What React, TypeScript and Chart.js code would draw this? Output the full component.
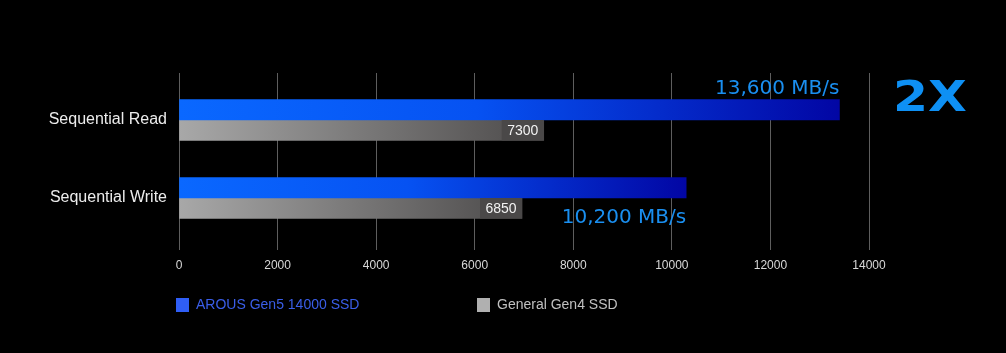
import React, { useEffect, useRef } from "react";
import { Chart, registerables } from "chart.js";

Chart.register(...registerables);

const categories = ["Sequential Read", "Sequential Write"];
const seriesNames = ["AROUS Gen5 14000 SSD", "General Gen4 SSD"];
const arousValues = [13400, 10290];
const generalValues = [7400, 6960];
const arousLabels = ["13,600 MB/s", "10,200 MB/s"];
const generalLabels = ["7300", "6850"];
const badgeText = "2X";
const xTickValues = [0, 2000, 4000, 6000, 8000, 10000, 12000, 14000];

const BLUE_LEGEND = "#2f5ef6";
const GRAY_LEGEND = "#b0b0b0";

function makeGradient(ctx: any, stops: [number, string][], fallback: string) {
  const chart = ctx.chart;
  const xs = chart.scales && chart.scales.x;
  if (!xs || ctx.type !== "data" || !ctx.raw) return fallback;
  const x0 = xs.getPixelForValue(0);
  const x1 = xs.getPixelForValue(ctx.raw.x);
  if (!isFinite(x0) || !isFinite(x1) || x1 <= x0) return fallback;
  const g = chart.ctx.createLinearGradient(x0, 0, x1, 0);
  stops.forEach(([o, c]) => g.addColorStop(o, c));
  return g;
}

function blueGradient(ctx: any) {
  return makeGradient(
    ctx,
    [
      [0, "#0a68ff"],
      [0.45, "#0652f2"],
      [1, "#0206a4"],
    ],
    "#0a5cff"
  );
}

function grayGradient(ctx: any) {
  return makeGradient(
    ctx,
    [
      [0, "#a8a8a8"],
      [1, "#4c4a4a"],
    ],
    "#888888"
  );
}

const labelsPlugin = {
  id: "customLabels",
  afterDatasetsDraw(chart: any) {
    const ctx = chart.ctx;
    const blueMeta = chart.getDatasetMeta(0);
    const grayMeta = chart.getDatasetMeta(1);
    ctx.save();
    grayMeta.data.forEach((el: any, i: number) => {
      const h = el.height;
      const boxW = 42;
      ctx.fillStyle = "#4a4848";
      ctx.fillRect(el.x - boxW, el.y - h / 2, boxW, h);
      ctx.fillStyle = "#f2f2f2";
      ctx.font = "14px 'Liberation Sans', Arial, sans-serif";
      ctx.textAlign = "center";
      ctx.textBaseline = "middle";
      ctx.fillText(generalLabels[i], el.x - boxW / 2, el.y + 1);
    });
    blueMeta.data.forEach((el: any, i: number) => {
      const h = el.height;
      ctx.fillStyle = "#1a8ff0";
      ctx.font = "20px 'DejaVu Sans', sans-serif";
      ctx.textAlign = "right";
      ctx.textBaseline = "alphabetic";
      const y = i === 0 ? el.y - h / 2 - 6 : el.y + h / 2 + 25;
      ctx.fillText(arousLabels[i], el.x, y);
    });
    ctx.fillStyle = "#0e90f4";
    ctx.font = "bold 42px 'DejaVu Sans', sans-serif";
    ctx.textAlign = "left";
    ctx.textBaseline = "alphabetic";
    ctx.translate(chart.chartArea.right + 24, chart.chartArea.top + 38);
    ctx.scale(1.2, 1);
    ctx.fillText(badgeText, 0, 0);
    ctx.restore();

    ctx.save();
    const legendY = 305;
    const items = [
      { x: 176, box: BLUE_LEGEND, color: "#3a5ee8" },
      { x: 477, box: GRAY_LEGEND, color: "#c0c0c0" },
    ];
    ctx.font = "14px 'Liberation Sans', Arial, sans-serif";
    ctx.textBaseline = "middle";
    ctx.textAlign = "left";
    items.forEach((it, i) => {
      ctx.fillStyle = it.box;
      ctx.fillRect(it.x, legendY - 7, 13, 14);
      ctx.fillStyle = it.color;
      ctx.fillText(chart.data.datasets[i].label, it.x + 20, legendY);
    });
    ctx.restore();
  },
};

export default function App() {
  const canvasRef = useRef<HTMLCanvasElement | null>(null);

  useEffect(() => {
    if (!canvasRef.current) return;
    const chart = new Chart(canvasRef.current, {
      type: "bar",
      data: {
        datasets: [
          {
            label: seriesNames[0],
            data: arousValues.map((v, i) => ({ x: v, y: i })),
            backgroundColor: blueGradient as any,
            borderWidth: 0,
            barThickness: 20.5,
          },
          {
            label: seriesNames[1],
            data: generalValues.map((v, i) => ({ x: v, y: i })),
            backgroundColor: grayGradient as any,
            borderWidth: 0,
            barThickness: 20.5,
          },
        ],
      },
      options: {
        indexAxis: "y",
        animation: false,
        responsive: false,
        maintainAspectRatio: false,
        layout: { padding: { left: 0, top: 73, right: 137, bottom: 73 } },
        plugins: {
          legend: { display: false },
          tooltip: { enabled: false },
        },
        scales: {
          x: {
            type: "linear",
            min: 0,
            max: 14000,
            offset: false,
            afterBuildTicks: (scale: any) => {
              scale.ticks = xTickValues.map((v) => ({ value: v }));
            },
            afterFit: (scale: any) => {
              scale.height = 30;
            },
            grid: {
              color: "#5e5e5e",
              lineWidth: 1,
              drawTicks: false,
              offset: false,
            },
            border: { display: false },
            ticks: {
              color: "#d8d8d8",
              padding: 8,
              maxRotation: 0,
              font: { family: "'Liberation Sans', Arial, sans-serif", size: 12 },
              callback: (v: any) => String(v),
            },
          },
          y: {
            type: "linear",
            reverse: true,
            offset: false,
            bounds: "data",
            grace: 0,
            min: -0.6026,
            max: 1.6667,
            afterBuildTicks: (scale: any) => {
              scale.ticks = categories.map((_, i) => ({ value: i }));
            },
            afterFit: (scale: any) => {
              scale.width = 179;
            },
            grid: { display: false, drawTicks: false, offset: false },
            border: { display: false },
            ticks: {
              color: "#ececec",
              padding: 12,
              font: { family: "'Liberation Sans', Arial, sans-serif", size: 16 },
              callback: (v: any) => categories[v] ?? "",
            },
          },
        },
      } as any,
      plugins: [labelsPlugin],
    });
    return () => chart.destroy();
  }, []);

  return (
    <div
      style={{
        position: "absolute",
        left: 0,
        top: 0,
        width: 1006,
        height: 353,
        background: "#000",
      }}
    >
      <canvas ref={canvasRef} width={1006} height={353} style={{ display: "block" }} />
    </div>
  );
}
